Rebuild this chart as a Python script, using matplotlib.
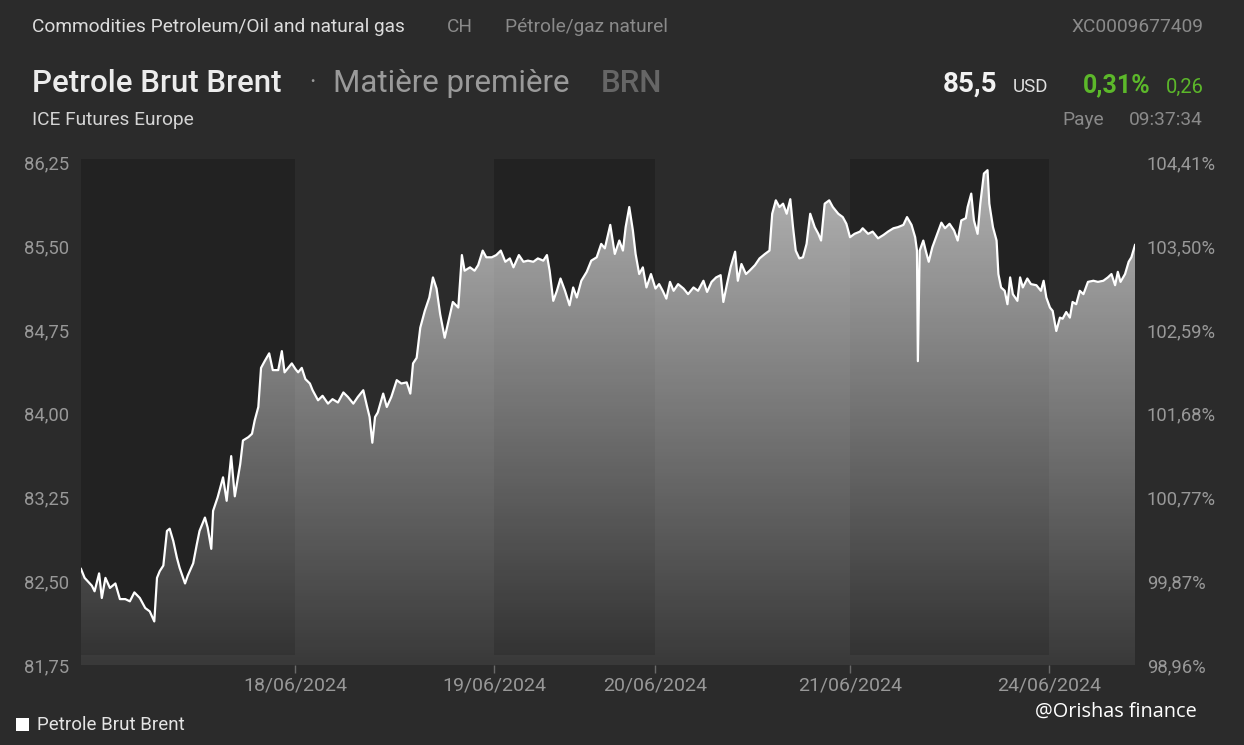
import numpy as np
import matplotlib.pyplot as plt

plt.rcParams['font.family'] = ['Roboto', 'DejaVu Sans']

# trading hours since the 17/06 open, and Brent price, one pair of lists per day
d17_t = [0.0, 0.4, 1.2, 1.5, 2.0, 2.3, 2.7, 3.2, 3.8, 4.3, 4.9, 5.4, 5.9, 6.5, 7.1, 7.6, 8.1, 8.4,
         8.7, 9.1, 9.5, 9.8, 10.2, 10.6, 10.9, 11.5, 11.8, 12.4, 12.8, 13.1, 13.7, 14.0, 14.4, 14.6,
         15.1, 15.7, 16.1, 16.6, 17.0, 17.6, 17.9, 18.5, 18.9, 19.2, 19.6, 19.9, 20.3, 20.8, 21.2,
         21.8, 22.2, 22.5, 23.3]
d17_p = [82.61, 82.53, 82.46, 82.41, 82.57, 82.35, 82.53, 82.44, 82.48, 82.34, 82.34, 82.32, 82.40,
         82.35, 82.26, 82.23, 82.14, 82.53, 82.59, 82.64, 82.95, 82.97, 82.86, 82.71, 82.62, 82.48,
         82.55, 82.66, 82.83, 82.95, 83.07, 82.98, 82.79, 83.13, 83.25, 83.43, 83.22, 83.62, 83.26,
         83.55, 83.76, 83.79, 83.82, 83.94, 84.06, 84.41, 84.47, 84.54, 84.39, 84.39, 84.56, 84.37,
         84.45]

d18_t = [23.7, 24.0, 24.4, 24.8, 25.3, 25.6, 26.2, 26.7, 27.3, 27.8, 28.4, 29.0, 29.5, 30.1, 30.6,
         31.2, 31.6, 31.9, 32.2, 32.5, 32.8, 33.4, 33.8, 34.3, 34.9, 35.4, 36.0, 36.4, 36.7, 37.1,
         37.5, 38.0, 38.5, 38.9, 39.3, 39.7, 40.2, 40.7, 41.1, 41.7, 42.1, 42.4, 43.0, 43.5, 43.9,
         44.4, 44.8, 45.4]
d18_p = [84.40, 84.37, 84.41, 84.31, 84.27, 84.21, 84.12, 84.16, 84.09, 84.13, 84.10, 84.19, 84.15,
         84.09, 84.15, 84.21, 84.07, 83.97, 83.74, 83.97, 84.01, 84.18, 84.06, 84.15, 84.30, 84.27,
         84.28, 84.18, 84.45, 84.50, 84.77, 84.92, 85.04, 85.22, 85.12, 84.89, 84.68, 84.86, 85.00,
         84.95, 85.42, 85.28, 85.31, 85.28, 85.33, 85.46, 85.40, 85.40]

d19_t = [45.9, 46.4, 46.9, 47.4, 47.8, 48.4, 48.9, 49.4, 50.0, 50.5, 51.1, 51.5, 51.8, 52.2, 52.6,
         53.0, 53.5, 54.0, 54.4, 54.8, 55.3, 55.9, 56.4, 57.0, 57.5, 57.9, 58.5, 59.0, 59.5, 59.9,
         60.2, 60.6, 61.0, 61.3, 61.7, 62.1, 62.5, 63.0]
d19_p = [85.42, 85.46, 85.36, 85.39, 85.31, 85.42, 85.36, 85.37, 85.36, 85.39, 85.37, 85.42, 85.28,
         85.01, 85.10, 85.21, 85.10, 84.97, 85.13, 85.04, 85.19, 85.27, 85.37, 85.40, 85.52, 85.48,
         85.69, 85.43, 85.55, 85.46, 85.67, 85.85, 85.64, 85.43, 85.25, 85.31, 85.13, 85.25]

d20_t = [63.5, 63.9, 64.3, 64.7, 65.1, 65.5, 66.0, 66.6, 67.1, 67.7, 68.2, 68.8, 69.2, 69.7, 70.2,
         70.7, 71.0, 71.4, 71.8, 72.3, 72.6, 73.0, 73.5, 73.9, 74.5, 75.0, 75.6, 76.1, 76.4, 76.8,
         77.2, 77.6, 78.0, 78.4, 78.7, 79.0, 79.4, 79.8, 80.2, 80.6, 81.1, 81.5, 81.8, 82.2, 82.7,
         83.1, 83.7, 84.2, 84.6]
d20_p = [85.12, 85.16, 85.10, 85.03, 85.18, 85.10, 85.16, 85.12, 85.07, 85.13, 85.10, 85.19, 85.09,
         85.18, 85.22, 85.24, 85.00, 85.16, 85.31, 85.45, 85.19, 85.34, 85.25, 85.28, 85.33, 85.39,
         85.43, 85.46, 85.79, 85.91, 85.85, 85.88, 85.79, 85.92, 85.67, 85.46, 85.39, 85.40, 85.52,
         85.79, 85.67, 85.61, 85.55, 85.88, 85.91, 85.85, 85.79, 85.76, 85.70]

d21_t = [85.0, 85.5, 86.1, 86.4, 87.0, 87.5, 88.1, 88.7, 89.2, 89.8, 90.3, 90.9, 91.3, 91.8, 92.2,
         92.4, 92.5, 92.7, 93.1, 93.4, 93.7, 94.1, 94.6, 95.1, 95.5, 96.0, 96.5, 96.9, 97.3, 97.8,
         98.0, 98.4, 98.7, 99.1, 99.4, 99.8, 100.2, 100.4, 100.8, 101.2, 101.4, 101.7, 102.1, 102.4,
         102.7, 103.0, 103.5, 103.8, 104.1, 104.6, 105.0, 105.6, 106.1, 106.4, 106.7]
d21_p = [85.58, 85.61, 85.63, 85.66, 85.61, 85.63, 85.57, 85.60, 85.63, 85.66, 85.67, 85.69, 85.76,
         85.69, 85.58, 85.46, 84.47, 85.46, 85.55, 85.45, 85.36, 85.49, 85.60, 85.71, 85.66, 85.70,
         85.64, 85.55, 85.73, 85.75, 85.85, 85.97, 85.73, 85.61, 85.88, 86.15, 86.18, 85.88, 85.67,
         85.55, 85.25, 85.13, 85.10, 84.98, 85.22, 85.07, 85.01, 85.22, 85.13, 85.21, 85.16, 85.15,
         85.10, 85.19, 85.04]

d24_t = [107.1, 107.4, 107.8, 108.2, 108.5, 108.9, 109.3, 109.6, 110.0, 110.4, 110.8, 111.3, 111.9,
         112.4, 113.0, 113.5, 113.9, 114.3, 114.6, 114.9, 115.4, 115.8, 116.1, 116.5]
d24_p = [84.95, 84.92, 84.74, 84.86, 84.85, 84.91, 84.86, 85.00, 84.98, 85.10, 85.07, 85.18, 85.19,
         85.18, 85.19, 85.22, 85.25, 85.15, 85.27, 85.18, 85.25, 85.36, 85.40, 85.51]

day_start = [0.0, 23.65, 45.64, 63.43, 84.97, 106.96]
session_end = 116.5
day_labels = ['18/06/2024', '19/06/2024', '20/06/2024', '21/06/2024', '24/06/2024']
shaded_days = [0, 2, 4]

y_ticks = [81.75, 82.50, 83.25, 84.00, 84.75, 85.50, 86.25]
pct_labels = ['98,96%', '99,87%', '100,77%', '101,68%', '102,59%', '103,50%', '104,41%']

t = np.array(d17_t + d18_t + d19_t + d20_t + d21_t + d24_t)
p = np.array(d17_p + d18_p + d19_p + d20_p + d21_p + d24_p)

BG = '#2b2b2b'
BAND = '#222222'
TICK = '#989898'

W, H = 1244, 745
fig = plt.figure(figsize=(W / 100, H / 100), dpi=100, facecolor=BG)

def px(x, y):
    return x / W, 1 - y / H

y_lo, y_hi = 81.75, 86.28
ax = fig.add_axes([81 / W, 1 - 665 / H, (1135 - 81) / W, (665 - 159) / H])
ax.set_facecolor(BG)
ax.set_xlim(0, session_end)
ax.set_ylim(y_lo, y_hi)

# darker background for every other day
ends = day_start[1:] + [session_end]
for i in shaded_days:
    ax.axvspan(day_start[i], ends[i], ymin=0.02, ymax=1, color=BAND, lw=0, zorder=0)

# gradient area under the line
grad = np.ones((256, 1, 4))
grad[:, 0, 3] = np.linspace(0.66, 0.07, 256)
im = ax.imshow(grad, extent=[0, session_end, y_lo, y_hi], aspect='auto', origin='upper',
               zorder=2, interpolation='bilinear')
area = ax.fill_between(t, p, y_lo, facecolor='none', lw=0)
im.set_clip_path(area.get_paths()[0], transform=ax.transData)
ax.plot(t, p, color='white', lw=1.6, zorder=3)

for s in ax.spines.values():
    s.set_visible(False)
ax.set_yticks(y_ticks)
ax.set_yticklabels([f'{v:.2f}'.replace('.', ',') for v in y_ticks])
ax.set_xticks(day_start[1:])
ax.set_xticklabels(day_labels)
ax.tick_params(axis='y', length=0, pad=8.6, labelsize=13.3, labelcolor=TICK)
ax.tick_params(axis='x', length=6, width=1, color='#6a6a6a', pad=2.5, labelsize=14,
               labelcolor=TICK)

ax2 = ax.twinx()
ax2.set_ylim(y_lo, y_hi)
ax2.set_yticks(y_ticks)
ax2.set_yticklabels(pct_labels)
ax2.tick_params(axis='y', length=0, pad=8.6, labelsize=13.3, labelcolor=TICK)
for s in ax2.spines.values():
    s.set_visible(False)

# header
fig.text(*px(32, 27), 'Commodities Petroleum/Oil and natural gas', color='#dcdcdc', fontsize=13.8,
         va='center')
fig.text(*px(447, 27), 'CH', color='#8a8a8a', fontsize=13.8, va='center')
fig.text(*px(505, 27), 'Pétrole/gaz naturel', color='#8a8a8a', fontsize=13.8, va='center')
fig.text(*px(1203, 27), 'XC0009677409', color='#8a8a8a', fontsize=13.8, va='center', ha='right')

fig.text(*px(32, 83), 'Petrole Brut Brent', color='#ececec', fontsize=22.5, fontweight='medium',
         va='center')
fig.text(*px(309, 83), '·', color='#9a9a9a', fontsize=18, va='center')
fig.text(*px(333, 83), 'Matière première', color='#9a9a9a', fontsize=22.5, va='center')
fig.text(*px(601, 83), 'BRN', color='#666666', fontsize=22.5, fontweight='medium', va='center')

fig.text(*px(997, 84), '85,5', color='#f2f2f2', fontsize=20, fontweight='bold', va='center',
         ha='right')
fig.text(*px(1013, 87), 'USD', color='#e0e0e0', fontsize=13.5, va='center')
fig.text(*px(1083, 85), '0,31%', color='#5cb82a', fontsize=18, fontweight='bold', va='center')
fig.text(*px(1166, 87), '0,26', color='#5cb82a', fontsize=14.5, va='center')

fig.text(*px(32, 120), 'ICE Futures Europe', color='#d4d4d4', fontsize=13.8, va='center')
fig.text(*px(1062, 120), 'Paye', color='#8a8a8a', fontsize=13.8, va='center')
fig.text(*px(1203, 120), '09:37:34', color='#8a8a8a', fontsize=13.8, va='center', ha='right')

# legend and credit
fig.patches.append(plt.Rectangle(px(16, 731), 13 / W, 13 / H, transform=fig.transFigure,
                                 facecolor='white', edgecolor='none'))
fig.text(*px(37, 725), 'Petrole Brut Brent', color='#e4e4e4', fontsize=13.5, va='center')
fig.text(*px(1035, 712), '@Orishas finance', color='white', fontsize=14.3, va='center',
         family=['Open Sans', 'DejaVu Sans'])

fig.savefig('out.png', dpi=100, facecolor=BG)
